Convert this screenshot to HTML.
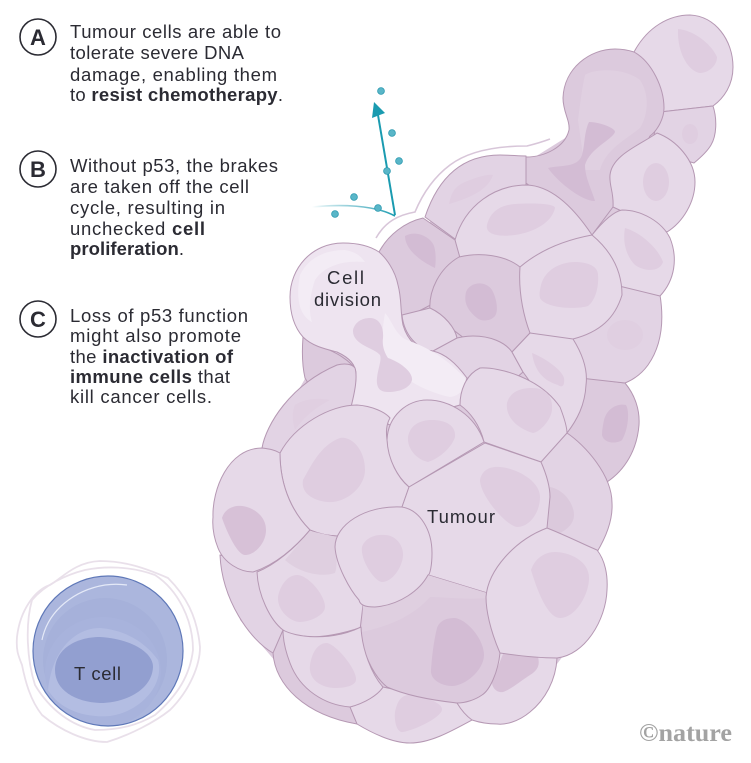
<!DOCTYPE html>
<html><head><meta charset="utf-8"><style>
html,body{margin:0;padding:0;background:#fff}
svg{display:block}
text{font-family:"Liberation Sans",sans-serif;fill:#2b2b33;font-size:18.5px}
.c{stroke:#b598b3;stroke-width:1;stroke-linejoin:round}
.l{fill:#e6d9e8}.m{fill:#e2d3e4}.d{fill:#dccadd}
.n{fill:#dfcde0}.n2{fill:#d3bcd4}
</style></head><body>
<svg width="751" height="763" viewBox="0 0 751 763" xmlns="http://www.w3.org/2000/svg">
<defs>
<linearGradient id="fade" x1="0" x2="1" y1="0" y2="0"><stop offset="0" stop-color="#1a9bb0" stop-opacity="0"/><stop offset=".5" stop-color="#5cb5c6" stop-opacity=".7"/><stop offset="1" stop-color="#1a9bb0"/></linearGradient>
<clipPath id="tc"><circle cx="108" cy="651" r="75"/></clipPath>
</defs>
<rect width="751" height="763" fill="#fff"/>

<!-- legend -->
<g fill="none" stroke="#2b2b33" stroke-width="1.6"><circle cx="38" cy="37" r="18"/><circle cx="38" cy="169" r="18"/><circle cx="38" cy="319" r="18"/></g>
<text x="38" y="45" text-anchor="middle" font-weight="700" style="font-size:22px">A</text>
<text x="38" y="177" text-anchor="middle" font-weight="700" style="font-size:22px">B</text>
<text x="38" y="327" text-anchor="middle" font-weight="700" style="font-size:22px">C</text>

<text x="70" y="38" textLength="211">Tumour cells are able to</text>
<text x="70" y="59" textLength="174">tolerate severe DNA</text>
<text x="70" y="81" textLength="207">damage, enabling them</text>
<text x="70" y="101" textLength="213">to <tspan font-weight="700">resist chemotherapy</tspan>.</text>

<text x="70" y="172" textLength="208">Without p53, the brakes</text>
<text x="70" y="193" textLength="179">are taken off the cell</text>
<text x="70" y="214" textLength="155">cycle, resulting in</text>
<text x="70" y="235" textLength="135">unchecked <tspan font-weight="700">cell</tspan></text>
<text x="70" y="255" textLength="114" font-weight="700">proliferation<tspan font-weight="400">.</tspan></text>

<text x="70" y="322" textLength="178">Loss of p53 function</text>
<text x="70" y="342" textLength="171">might also promote</text>
<text x="70" y="363" textLength="163">the <tspan font-weight="700">inactivation of</tspan></text>
<text x="70" y="383" textLength="160"><tspan font-weight="700">immune cells</tspan> that</text>
<text x="70" y="403" textLength="142">kill cancer cells.</text>

<!-- backing -->
<path class="d" d="M385,260L430,222L480,160L530,160L570,135L620,60L700,100L690,170L660,230L655,340L622,378L630,420L605,478L598,555L590,620L530,700L470,715L410,738L300,690L240,620L225,530L270,440L310,370L310,340L400,320Z"/>

<!-- top right cells -->
<path class="c l" d="M634,52C648,26 670,15 690,15C715,16 733,40 733,67C733,85 724,98 713,106L660,112L640,90Z"/>
<path class="n" d="M678,29C692,30 710,42 717,57C717,66 708,73 700,73C690,72 677,55 678,29Z"/>
<path class="c m" d="M660,112L713,106C717,118 717,135 711,145C707,152 700,158 694,163L650,150Z"/>
<ellipse cx="690" cy="134" rx="8" ry="10" class="n"/>

<path class="c d" d="M634,52C652,62 664,88 664,108C664,118 658,130 650,136L613,207L592,235L526,183L526,157C545,157 565,147 569,130C570,120 563,112 563,98C564,68 590,49 615,49C622,49 628,50 634,52Z"/>
<path fill="#e0d0e1" d="M585,75C595,68 625,68 640,80C650,95 648,115 640,128C625,140 605,150 600,170L585,170L578,120C580,105 582,88 585,75Z"/>
<path class="n2" d="M589,122C600,122 615,128 615,132C612,140 590,148 585,165C585,178 592,190 595,201C585,202 560,185 548,168C560,165 578,168 582,155C585,145 584,132 589,122Z"/>

<path class="c l" d="M657,133C676,140 695,160 695,182C695,202 683,222 667,232L613,207C614,192 609,186 610,175C612,155 640,145 657,133Z"/>
<ellipse cx="656" cy="182" rx="13" ry="19" class="n"/>

<!-- right column -->
<path class="c d" d="M586,378L625,383C635,395 640,410 639,425C637,450 625,470 607,482L560,440L570,390Z"/>
<path class="n2" d="M604,420C607,408 618,403 626,405C630,412 628,430 622,440C617,444 604,444 602,435C602,430 603,425 604,420Z"/>
<path class="c m" d="M615,285L660,295C664,320 662,345 648,365C640,376 630,381 625,383L580,378L565,335Z"/>
<ellipse cx="625" cy="335" rx="18" ry="15" class="n" opacity=".7"/>
<path class="c l" d="M592,235C600,225 612,212 622,210C642,210 662,222 670,238C678,258 675,280 660,296L615,285L585,260Z"/>
<path class="n" d="M625,228C640,232 658,248 663,262C660,272 645,272 635,265C628,258 622,245 625,228Z"/>

<!-- top centre -->
<path class="c m" d="M425,217C438,178 462,155 500,155C510,155 518,156 526,156L526,195L470,250Z"/>
<path class="n" d="M449,204C452,190 456,185 470,180C480,176 490,174 493,175C488,190 470,198 449,204Z"/>

<path class="c l" d="M455,240C465,205 495,185 527,185C552,186 574,208 592,235L600,270L520,272L465,262L459,257Z"/>
<path class="n" d="M487,225C490,212 500,205 515,204C530,203 555,203 555,208C552,222 535,232 515,235C500,237 485,235 487,225Z"/>

<path class="c d" d="M379,252C388,235 405,222 423,218L455,240L462,265L440,300L402,320L399,295C398,280 388,262 379,252Z"/>
<path class="n2" d="M405,236C415,230 430,236 434,246C436,252 436,262 435,268C422,262 405,250 405,236Z"/>

<path class="c d" d="M459,257C480,252 505,255 520,267L530,333L512,352L473,345L430,312C428,290 440,268 459,257Z"/>
<path class="n2" d="M466,292C470,282 485,280 492,290C496,297 499,310 495,316C491,321 482,322 477,318C470,312 463,305 466,292Z"/>

<path class="c l" d="M520,267C540,250 565,240 592,235C610,250 622,270 622,295C615,318 600,332 573,339C555,340 540,338 530,333C525,320 518,295 520,267Z"/>
<path class="n" d="M541,285C545,270 560,262 575,262C585,262 598,265 598,275C599,285 596,300 588,306C575,310 545,308 540,298C539,293 540,290 541,285Z"/>

<!-- cell next to division -->
<path class="c m" d="M433,351C445,340 460,336 473,336C490,336 505,342 512,352L523,372L480,410L440,380Z"/>
<path class="c l" d="M402,315L430,308C445,315 455,328 457,338L433,351C418,350 404,335 402,315Z"/>

<path class="c l" d="M512,352L530,333L573,339C583,355 588,370 586,385C585,405 577,420 567,433L523,372Z"/>
<path class="n" d="M532,353C545,358 562,370 564,378C565,386 562,388 558,385C548,382 535,375 532,353Z"/>

<!-- back left -->
<path class="c d" d="M303,337C315,347 345,350 360,375L330,420L305,378C302,365 302,350 303,337Z"/>

<!-- division cell -->
<path class="c" fill="#eee4f0" d="M379,252C370,246 357,243 343,243C312,243 290,268 290,297C290,315 295,328 303,337C312,346 325,349 337,352C350,358 356,365 356,375C356,388 352,398 351,407L390,425L460,405L467,378C455,362 445,354 433,351C418,350 408,342 403,325C400,310 402,300 398,285C395,270 386,258 379,252Z"/>
<path fill="#f3ecf5" d="M385,313C392,320 395,335 407,340C420,345 440,352 465,378C466,388 460,396 450,397C425,392 395,375 383,357C381,340 383,325 385,313Z"/>
<path fill="#f3ecf5" d="M300,275C308,258 325,250 345,250C355,252 360,255 365,262C345,260 325,265 315,280C310,295 308,310 312,322C298,315 296,295 300,275Z"/>
<path class="n" d="M353,330C355,322 362,318 370,318C378,318 384,325 383,338C382,345 384,352 388,358C400,362 413,372 412,380C410,388 400,392 388,392C380,392 376,388 377,378C378,368 382,360 380,355C375,348 352,345 353,330Z"/>

<!-- upper-left big -->
<path class="c m" d="M262,448C266,425 290,385 337,365C345,363 352,364 355,368C358,378 354,395 351,407L360,430L300,490L262,460Z"/>
<path class="n" d="M295,405C305,398 320,398 330,400C320,405 305,415 295,430C292,420 292,412 295,405Z" opacity=".7"/>

<!-- right lower -->
<path class="c m" d="M567,433C585,445 612,475 612,503C613,520 606,537 597,552L530,540L530,460Z"/>
<path fill="#dbc9dc" d="M550,487C565,490 574,505 574,515C574,524 566,530 560,533L545,530Z"/>

<path class="c l" d="M460,405C460,392 465,375 480,368C500,367 540,378 560,407C565,420 567,428 567,433L541,462L484,442C480,425 470,412 460,405Z"/>
<path class="n" d="M507,403C510,392 520,388 532,388C545,388 553,395 552,410C551,420 540,432 533,433C522,430 505,420 507,403Z"/>

<!-- lower-left back -->
<path class="c m" d="M220,555C222,600 250,640 273,653L300,640L290,570L240,560Z"/>
<path class="c d" d="M273,653C275,685 305,715 357,724L375,700L300,640L283,630Z"/>

<!-- P -->
<path class="c l" d="M387,440C388,415 408,400 427,400C450,400 475,415 484,442L409,487C395,475 387,455 387,440Z"/>
<path class="n" d="M408,437C410,425 420,420 432,420C445,420 456,425 455,437C452,447 440,458 428,462C418,460 407,450 408,437Z"/>

<!-- O -->
<path class="c l" d="M280,453C295,425 330,405 357,405C372,406 385,412 390,418C386,425 386,432 387,440C388,460 398,478 409,487L402,507L337,536C325,535 315,533 310,530C295,515 280,490 280,453Z"/>
<path class="n" d="M303,480C310,468 320,445 340,438C352,436 365,450 365,470C365,485 350,500 333,502C318,503 300,495 303,480Z"/>

<!-- N -->
<path class="c l" d="M262,448C270,449 275,450 280,453C280,490 295,515 310,530C295,548 275,565 253,572C240,572 224,563 218,548C214,538 212,528 213,517C212,490 228,448 262,448Z"/>
<path class="n2" d="M222,518C225,508 235,505 242,506C252,507 266,515 266,530C266,543 255,555 245,555C238,555 228,535 222,518Z" opacity=".85"/>

<!-- Z -->
<path class="c l" d="M350,707C365,703 378,695 383,687L457,703L472,720C450,732 430,743 410,743C392,743 372,733 357,724Z"/>
<path class="n" d="M395,712C397,703 400,696 408,695C420,695 443,702 442,710C440,718 415,730 403,732C397,733 394,722 395,712Z"/>

<!-- AA -->
<path class="c l" d="M490,650L557,658C556,680 545,700 530,712C518,722 505,725 497,724C485,724 478,722 472,720C465,715 460,708 457,703L480,680Z"/>
<path class="n2" d="M503,654L538,657C540,665 538,670 530,675C522,680 510,690 503,692C497,693 492,688 492,682Z" opacity=".85"/>

<!-- V -->
<path class="c l" d="M257,572C275,565 295,548 310,530C320,534 330,536 337,536L400,570L362,627C340,635 320,637 310,637C295,637 285,632 283,630C270,620 258,595 257,572Z"/>
<path fill="#dfcfe0" d="M285,560L310,531L337,537C336,550 338,565 335,573C320,578 298,572 285,560Z"/>
<path class="n" d="M278,597C280,585 288,575 297,575C308,575 325,595 325,607C325,615 310,622 300,622C290,622 277,610 278,597Z"/>

<!-- Q -->
<path class="c l" d="M409,487L485,443L541,462C548,478 550,490 550,497L547,528L525,600L487,593L428,575L380,530L402,507Z"/>
<path class="n" d="M480,480C482,470 490,466 500,467C515,468 540,480 540,497C540,512 530,527 517,527C505,525 480,495 480,480Z"/>

<!-- U -->
<path class="c d" d="M363,605C390,600 415,590 428,575L487,593C490,620 500,640 500,653C498,672 490,690 482,695C475,700 465,703 457,703C430,700 405,695 387,687C372,675 362,650 360,630Z"/>
<path fill="#dfcfe0" d="M363,605C390,600 415,590 428,575L487,593L487,598C465,600 445,597 430,597C410,620 380,628 362,632Z"/>
<path class="n2" d="M437,628C440,620 447,618 455,618C468,620 484,640 484,655C484,670 465,686 452,686C442,686 430,680 431,670C432,655 434,640 437,628Z"/>

<!-- W -->
<path class="c l" d="M283,630C295,637 330,642 361,627C362,650 372,675 383,687C378,695 365,703 350,707C325,705 300,690 290,663C285,650 283,640 283,630Z"/>
<path class="n" d="M310,665C312,652 318,643 327,643C337,645 357,670 356,680C355,686 345,688 335,688C322,688 308,680 310,665Z"/>

<!-- T -->
<path class="c l" d="M547,528C565,535 585,545 597,550C605,560 608,575 607,590C606,620 585,655 557,658C540,658 520,656 500,653C490,630 486,610 486,597C488,570 515,540 547,528Z"/>
<path class="n" d="M531,570C535,558 545,552 555,552C568,552 589,560 589,578C589,595 575,618 560,618C550,618 540,600 531,570Z"/>

<!-- S -->
<path class="c l" d="M402,507C420,510 432,530 432,553C432,565 430,575 428,575C420,590 400,605 375,607C365,607 360,605 359,600C350,590 336,565 335,547C335,525 365,505 402,507Z"/>
<path class="n" d="M362,547C365,538 375,534 385,535C395,535 404,545 403,556C402,568 392,582 382,582C375,582 360,560 362,547Z"/>

<!-- rim + arrow -->
<path d="M376,238C385,222 398,215 415,212C420,200 430,180 450,165C470,150 500,146 527,146C535,144 542,142 550,139" fill="none" stroke="#d8c6d9" stroke-width="1.6"/>
<path d="M312,207C340,204 375,205 395,216" fill="none" stroke="url(#fade)" stroke-width="1.6"/>
<path d="M395,215L378,115" stroke="#1a9bb0" stroke-width="2" fill="none"/>
<path d="M374,102L372,118L385,113Z" fill="#1a9bb0"/>
<g fill="#59b6c8" stroke="#2d9ab0" stroke-width=".8">
<circle cx="381" cy="91" r="3.4"/><circle cx="392" cy="133" r="3.4"/><circle cx="399" cy="161" r="3.4"/><circle cx="387" cy="171" r="3.4"/><circle cx="354" cy="197" r="3.4"/><circle cx="378" cy="208" r="3.4"/><circle cx="335" cy="214" r="3.4"/>
</g>

<text x="327" y="284" textLength="37">Cell</text>
<text x="314" y="306" textLength="67">division</text>
<text x="427" y="523" textLength="68">Tumour</text>

<!-- T cell -->
<g fill="none" stroke="#e9e0ea" stroke-width="1.8">
<path d="M17,637C20,610 35,590 50,585C62,578 75,562 100,561C125,561 145,568 168,578C185,595 197,615 200,647C200,665 190,690 170,710C155,722 130,735 107,742C85,742 60,730 42,715C30,700 25,680 22,665C18,655 16,650 17,637Z"/>
<path d="M32,600C45,585 65,575 85,570C105,566 130,566 155,575C178,590 193,620 193,650C190,675 178,695 155,715C138,725 120,730 95,730C72,726 50,710 35,685C27,660 25,625 32,600Z"/>
</g>
<circle cx="108" cy="651" r="75" fill="#abb6dd"/>
<g clip-path="url(#tc)">
<ellipse cx="105" cy="660" rx="62" ry="62" fill="#a6b1da"/>
<ellipse cx="103" cy="672" rx="58" ry="55" fill="#a8b3dc"/>
<path d="M48,690C52,650 75,628 100,628C125,630 145,642 158,660C165,685 140,712 110,716C85,718 60,710 48,690Z" fill="#b3bde2"/>
<path d="M55,670C55,650 75,637 100,637C125,638 153,650 153,667C152,690 125,703 100,703C75,702 55,690 55,670Z" fill="#929fd0"/>
<path d="M42,640C48,610 75,590 105,585C112,584 120,584 127,585" fill="none" stroke="#e4e9f7" stroke-width="1.2"/>
</g>
<circle cx="108" cy="651" r="75" fill="none" stroke="#5f78b8" stroke-width="1.2"/>
<text x="74" y="680" textLength="47">T cell</text>

<!-- logo -->
<text x="639" y="741" textLength="93" lengthAdjust="spacingAndGlyphs" style="font-family:'Liberation Serif',serif;font-size:25px;font-weight:700;fill:#a3a3a3">©nature</text>
</svg>
</body></html>
